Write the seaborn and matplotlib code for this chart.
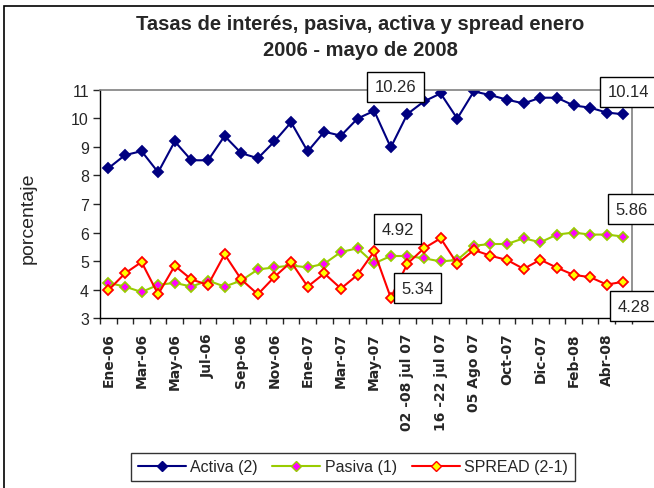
import matplotlib
matplotlib.use("Agg")
import matplotlib.pyplot as plt
import seaborn as sns
import pandas as pd
import numpy as np
from matplotlib.patches import Rectangle
from matplotlib.lines import Line2D

categorias = ["Ene-06", "Feb-06", "Mar-06", "Abr-06", "May-06", "Jun-06", "Jul-06", "Ago-06",
              "Sep-06", "Oct-06", "Nov-06", "Dic-06", "Ene-07", "Feb-07", "Mar-07", "Abr-07",
              "May-07", "Jun-07", "02 -08 jul 07", "09 -15 jul 07", "16 -22 jul 07", "23 -29 jul 07",
              "05 Ago 07", "Sep-07", "Oct-07", "Nov-07", "Dic-07", "Ene-08", "Feb-08", "Mar-08",
              "Abr-08", "May-08"]
activa = [8.25, 8.71, 8.85, 8.11, 9.19, 8.53, 8.53, 9.38, 8.78, 8.60, 9.19, 9.86, 8.84, 9.53, 9.39, 9.99,
          10.26, 8.98, 10.15, 10.59, 10.87, 9.99, 10.94, 10.81, 10.65, 10.52, 10.72, 10.72, 10.45, 10.37,
          10.20, 10.14]
pasiva = [4.24, 4.11, 3.92, 4.17, 4.24, 4.11, 4.32, 4.11, 4.32, 4.71, 4.78, 4.85, 4.78, 4.91, 5.32, 5.45,
          4.92, 5.18, 5.18, 5.10, 4.99, 5.04, 5.54, 5.60, 5.60, 5.80, 5.66, 5.93, 6.00, 5.93, 5.93, 5.86]
spread = [3.98, 4.57, 4.97, 3.84, 4.84, 4.36, 4.17, 5.24, 4.36, 3.84, 4.45, 4.97, 4.11, 4.57, 4.04, 4.52,
          5.34, 3.72, 4.91, 5.45, 5.80, 4.91, 5.39, 5.19, 5.04, 4.73, 5.05, 4.77, 4.52, 4.44, 4.18, 4.28]
series_names = ["Activa (2)", "Pasiva (1)", "SPREAD (2-1)"]
etiquetas = ["10.26", "10.14", "4.92", "5.86", "5.34", "4.28"]

sns.set_style("white")
plt.rcParams['font.family'] = ['Liberation Sans', 'DejaVu Sans']

fig = plt.figure(figsize=(6.54, 4.89), dpi=100)
ax = fig.add_axes([100/654, 1-319.3/489, (631.7-100)/654, (319.3-90.7)/489])

idx = np.arange(len(categorias))
df = pd.DataFrame({"idx": idx, "Activa (2)": activa, "Pasiva (1)": pasiva, "SPREAD (2-1)": spread})

styles = {
    "Activa (2)": dict(color="#000080", marker="D", markerfacecolor="#000080", markeredgecolor="#000080"),
    "Pasiva (1)": dict(color="#99CC00", marker="D", markerfacecolor="#FF00FF", markeredgecolor="#99CC00"),
    "SPREAD (2-1)": dict(color="#FF0000", marker="D", markerfacecolor="#FFFF00", markeredgecolor="#FF0000"),
}
for name in series_names:
    st = styles[name]
    sns.lineplot(data=df, x="idx", y=name, ax=ax, color=st["color"], marker=st["marker"],
                 markerfacecolor=st["markerfacecolor"], markeredgecolor=st["markeredgecolor"],
                 markeredgewidth=1.3, markersize=5.5, linewidth=1.5, legend=False)

ax.set_xlim(-0.5, len(categorias) - 0.5)
ax.set_ylim(3, 11)
ax.set_yticks(range(3, 12))
ax.tick_params(axis="y", direction="out", length=5, width=1, labelsize=11.5, pad=3, left=True)
ax.set_xticks(idx[::2])
ax.set_xticklabels(categorias[::2], rotation=90, fontsize=10, fontweight="bold", family="DejaVu Sans")
ax.tick_params(axis="x", length=0, pad=10)
ax.set_xticks(np.arange(-0.5, len(categorias), 1), minor=True)
ax.tick_params(axis="x", which="minor", direction="out", length=4, width=1, bottom=True)
ax.set_xlabel("")
ax.set_ylabel("")
fig.text(28/654, 1-218/489, "porcentaje", rotation=90, ha="center", va="center", fontsize=14)

for s in ["left", "bottom"]:
    ax.spines[s].set_color("black")
    ax.spines[s].set_linewidth(1)
for s in ["top", "right"]:
    ax.spines[s].set_color("#808080")
    ax.spines[s].set_linewidth(1.2)
    ax.spines[s].set_visible(True)

# data labels
pos = [(17.3, 11.1), (31.3, 10.92), (17.4, 6.12), (31.5, 6.82), (18.6, 4.06), (31.6, 3.42)]
for txt, (x, y) in zip(etiquetas, pos):
    ax.text(x, y, txt, ha="center", va="center", fontsize=12, clip_on=False, zorder=10,
            bbox=dict(boxstyle="square,pad=0.45", facecolor="white", edgecolor="black", linewidth=1))

fig.text(360/654, 1-25/489, "Tasas de interés, pasiva, activa y spread enero", ha="center", va="center",
         fontsize=14.5, fontweight="bold")
fig.text(360/654, 1-50/489, "2006 - mayo de 2008", ha="center", va="center",
         fontsize=14.5, fontweight="bold")

handles = [Line2D([0], [0], color=styles[n]["color"], marker="D", markerfacecolor=styles[n]["markerfacecolor"],
                  markeredgecolor=styles[n]["markeredgecolor"], markersize=5, linewidth=1.5) for n in series_names]
leg = fig.legend(handles, series_names, loc="center", bbox_to_anchor=(353/654, 1-468/489), ncol=3,
                 frameon=True, fancybox=False, fontsize=11.5, handlelength=3.0, columnspacing=0.9,
                 handletextpad=0.3, borderpad=0.4)
leg.get_frame().set_edgecolor("black")
leg.get_frame().set_linewidth(1)

fig.patches.append(Rectangle((4/654, -0.1), 2, 1 - 7/489 + 0.1, transform=fig.transFigure,
                             fill=False, edgecolor="black", linewidth=1.2))

fig.savefig("out.png", dpi=100)
